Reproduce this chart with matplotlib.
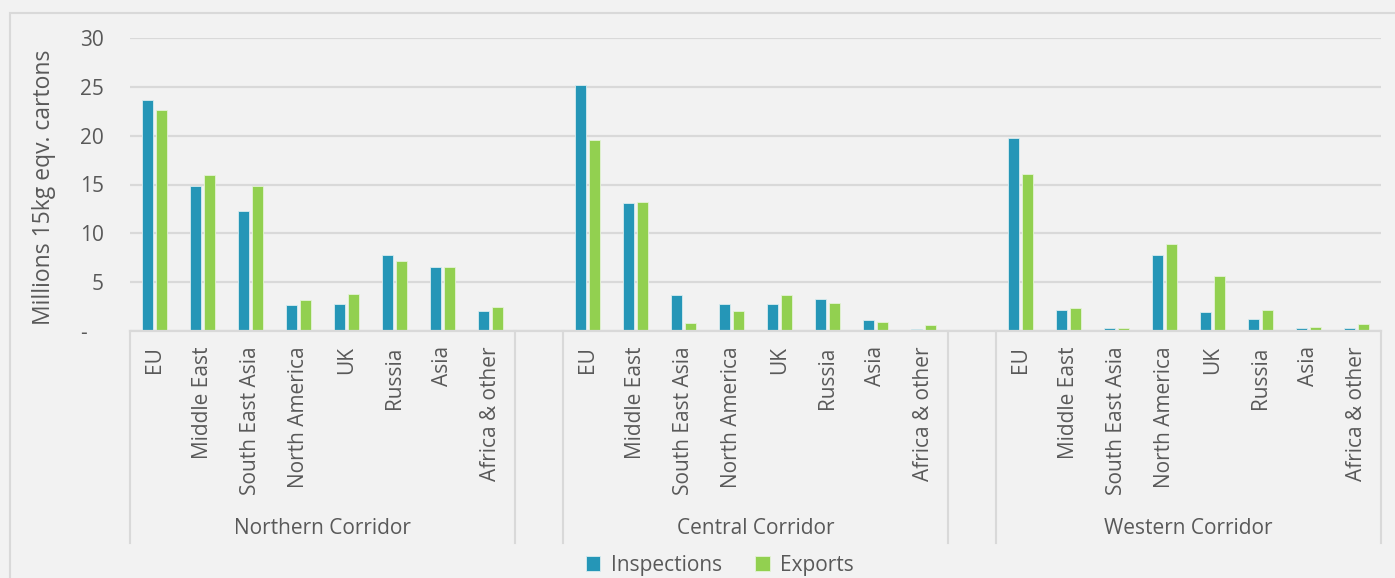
"Citrus inspections vs exports by corridor and market."
import matplotlib
matplotlib.use("Agg")
import matplotlib.pyplot as plt
import matplotlib.transforms as mtransforms
from matplotlib.patches import Rectangle

corridors = ["Northern Corridor", "Central Corridor", "Western Corridor"]
markets = ["EU", "Middle East", "South East Asia", "North America",
           "UK", "Russia", "Asia", "Africa & other"]

# millions of 15kg equivalent cartons, per corridor in market order
inspections = {
    "Northern Corridor": [23.7, 14.8, 12.3, 2.7, 2.8, 7.8, 6.6, 2.0],
    "Central Corridor": [25.2, 13.15, 3.7, 2.8, 2.8, 3.3, 1.1, 0.25],
    "Western Corridor": [19.8, 2.2, 0.3, 7.75, 1.9, 1.2, 0.35, 0.3],
}
exports = {
    "Northern Corridor": [22.6, 16.0, 14.8, 3.2, 3.75, 7.2, 6.6, 2.5],
    "Central Corridor": [19.55, 13.2, 0.85, 2.0, 3.65, 2.9, 0.97, 0.63],
    "Western Corridor": [16.05, 2.35, 0.3, 8.9, 5.6, 2.15, 0.42, 0.75],
}
yticks = [0, 5, 10, 15, 20, 25, 30]

TEXT = "#595959"
GRID = "#d9d9d9"
BLUE = "#2596b7"
GREEN = "#92d050"
FS = 15

plt.rcParams["font.family"] = ["Open Sans", "DejaVu Sans"]

fig = plt.figure(figsize=(13.95, 5.78), dpi=100, facecolor="#f2f2f2")
ax = fig.add_axes([130 / 1395, 1 - 331 / 578, 1251 / 1395, 293 / 578])
ax.set_facecolor("#f2f2f2")

# outer chart frame
fig.patches.append(Rectangle((10 / 1395, -0.2), 1.2, 1.2 - 13 / 578,
                             transform=fig.transFigure, fill=False,
                             edgecolor=GRID, linewidth=1.5))

n = len(markets)
width = 0.23
positions = []
labels = []
for g, corridor in enumerate(corridors):
    start = g * (n + 1)
    xs = [start + i for i in range(n)]
    positions += xs
    labels += markets
    ax.bar([x - 0.145 for x in xs], inspections[corridor], width,
           color=BLUE, edgecolor="#d8ecef", linewidth=0.6, zorder=3,
           label="Inspections" if g == 0 else None)
    ax.bar([x + 0.145 for x in xs], exports[corridor], width,
           color=GREEN, edgecolor="#e4f3d6", linewidth=0.6, zorder=3,
           label="Exports" if g == 0 else None)

total = len(corridors) * (n + 1) - 1
ax.set_xlim(-0.5, total - 0.5)
ax.set_ylim(0, 30)

ax.set_yticks(yticks)
ax.set_yticklabels(["-   " if v == 0 else str(v) for v in yticks])
ax.set_xticks(positions)
ax.set_xticklabels(labels, rotation=90)
ax.tick_params(axis="y", length=0, pad=19, labelsize=FS, labelcolor=TEXT)
ax.tick_params(axis="x", length=0, pad=11, labelsize=FS, labelcolor=TEXT)

ax.grid(axis="y", color=GRID, linewidth=1.6, zorder=0)
for side in ["top", "right", "left"]:
    ax.spines[side].set_visible(False)
ax.spines["bottom"].set_color(GRID)
ax.spines["bottom"].set_linewidth(1.6)
ax.spines["bottom"].set_zorder(4)

ax.set_ylabel("Millions 15kg eqv. cartons", fontsize=16.5, color=TEXT)
ax.yaxis.set_label_coords(-0.0592, 0.49)

# corridor separators and names below the axis
trans = mtransforms.blended_transform_factory(ax.transData, ax.transAxes)
bottom = -212 / 293
for g, corridor in enumerate(corridors):
    start = g * (n + 1)
    for x in [start - 0.5, start + n - 0.5]:
        ax.plot([x, x], [0, bottom], color=GRID, linewidth=1.5,
                transform=trans, clip_on=False)
    ax.text(start + (n - 1) / 2, -197 / 293, corridor, transform=trans,
            ha="center", va="center", fontsize=FS, color=TEXT)

fig.legend(loc="center", bbox_to_anchor=(0.516, 0.022), ncol=2,
           frameon=False, fontsize=FS, labelcolor=TEXT,
           handlelength=0.7, handleheight=0.7, handletextpad=0.5,
           columnspacing=1.6)

plt.savefig("out.png", dpi=100, facecolor=fig.get_facecolor())
